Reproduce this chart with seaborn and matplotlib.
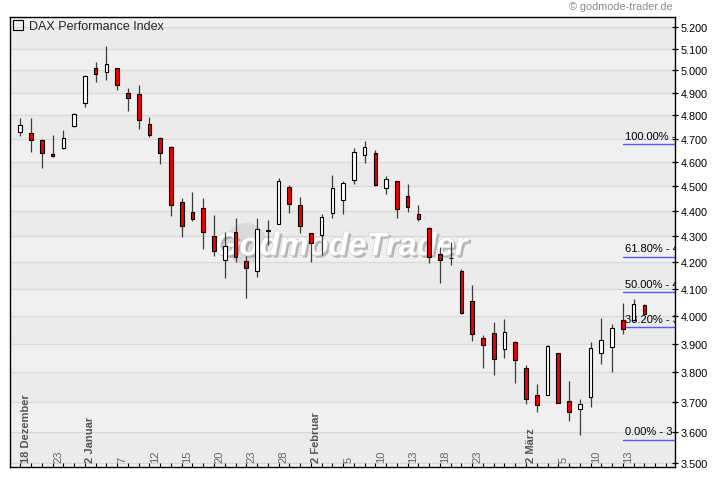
import numpy as np
import pandas as pd
import matplotlib
matplotlib.use("Agg")
import matplotlib.pyplot as plt
import matplotlib.transforms as mtransforms
import matplotlib.patheffects as pe
from matplotlib.lines import Line2D
from matplotlib.ticker import FixedLocator, FixedFormatter, NullLocator
import seaborn as sns

# ---------------- data ----------------
dates = ["2008-12-18", "2008-12-19", "2008-12-22", "2008-12-23", "2008-12-29", "2008-12-30",
         "2009-01-02", "2009-01-05", "2009-01-06", "2009-01-07", "2009-01-08", "2009-01-09",
         "2009-01-12", "2009-01-13", "2009-01-14", "2009-01-15", "2009-01-16",
         "2009-01-19", "2009-01-20", "2009-01-21", "2009-01-22", "2009-01-23",
         "2009-01-26", "2009-01-27", "2009-01-28", "2009-01-29", "2009-01-30",
         "2009-02-02", "2009-02-03", "2009-02-04", "2009-02-05", "2009-02-06",
         "2009-02-09", "2009-02-10", "2009-02-11", "2009-02-12", "2009-02-13",
         "2009-02-16", "2009-02-17", "2009-02-18", "2009-02-19", "2009-02-20",
         "2009-02-23", "2009-02-24", "2009-02-25", "2009-02-26", "2009-02-27",
         "2009-03-02", "2009-03-03", "2009-03-04", "2009-03-05", "2009-03-06",
         "2009-03-09", "2009-03-10", "2009-03-11", "2009-03-12", "2009-03-13",
         "2009-03-16", "2009-03-17"]

opens = [4727, 4722, 4692, 4634, 4659, 4753,
         4855, 5011, 4991, 5011, 4899, 4893,
         4764, 4703, 4662, 4437, 4396,
         4412, 4302, 4209, 4317, 4205,
         4166, 4323, 4349, 4499, 4424,
         4313, 4304, 4391, 4443, 4525,
         4629, 4637, 4493, 4522, 4462,
         4389, 4333, 4233, 4218, 4168,
         4055, 3921, 3938, 3883, 3907,
         3817, 3724, 3724, 3866, 3701,
         3677, 3716, 3866, 3890, 3984,
         3984, 4040]
highs = [4787, 4787, 4700, 4717, 4735, 4810,
         4978, 5040, 5114, 5013, 4921, 4935,
         4791, 4705, 4670, 4454, 4478,
         4454, 4385, 4319, 4374, 4225,
         4372, 4364, 4536, 4504, 4458,
         4315, 4389, 4548, 4523, 4658,
         4688, 4651, 4544, 4524, 4511,
         4426, 4335, 4259, 4279, 4174,
         4113, 3933, 3978, 3988, 3909,
         3826, 3760, 3895, 3868, 3770,
         3708, 3907, 3992, 3970, 4048,
         4063, 4043]
lows = [4713, 4644, 4574, 4623, 4656, 4751,
        4837, 4950, 4959, 4914, 4819, 4740,
        4706, 4594, 4379, 4296, 4359,
        4250, 4223, 4141, 4200, 4066,
        4145, 4265, 4347, 4394, 4313,
        4200, 4227, 4371, 4387, 4508,
        4598, 4502, 4467, 4371, 4398,
        4359, 4196, 4121, 4188, 4009,
        3909, 3816, 3792, 3850, 3764,
        3692, 3665, 3722, 3695, 3635,
        3589, 3682, 3829, 3802, 3935,
        3982, 4004]
closes = [4757, 4693, 4640, 4628, 4703, 4808,
          4975, 4982, 5031, 4936, 4878, 4780,
          4714, 4637, 4423, 4339, 4367,
          4317, 4244, 4263, 4221, 4180,
          4329, 4326, 4522, 4428, 4341,
          4275, 4376, 4493, 4514, 4645,
          4666, 4504, 4532, 4407, 4416,
          4367, 4219, 4208, 4216, 4011,
          3934, 3897, 3848, 3942, 3843,
          3710, 3690, 3891, 3697, 3667,
          3693, 3886, 3914, 3955, 3952,
          4043, 4009]

tick_dates = ["2008-12-18", "2008-12-23", "2009-01-02", "2009-01-07", "2009-01-12",
              "2009-01-15", "2009-01-20", "2009-01-23", "2009-01-28", "2009-02-02",
              "2009-02-05", "2009-02-10", "2009-02-13", "2009-02-18", "2009-02-23",
              "2009-03-02", "2009-03-05", "2009-03-10", "2009-03-13"]
tick_labels = ["18 Dezember", "23", "2 Januar", "7", "12", "15", "20", "23", "28",
               "2 Februar", "5", "10", "13", "18", "23", "2 März", "5", "10", "13"]

y_ticks = [3500, 3600, 3700, 3800, 3900, 4000, 4100, 4200, 4300, 4400,
           4500, 4600, 4700, 4800, 4900, 5000, 5100, 5200]

# Fibonacci retracement levels and their (axis-truncated) labels
fib_labels = ["100.00% -", "61.80% - 4", "50.00% - 4", "38.20% - 3", "0.00% - 3"]
fib_levels = [4675, 4221, 4087, 3960, 3575]

# ---------------- style ----------------
sns.set_theme(style="white")
plt.rcParams["font.family"] = ["Liberation Sans", "DejaVu Sans"]

df = pd.DataFrame({"date": dates, "open": opens, "high": highs,
                   "low": lows, "close": closes})
df["pos"] = np.arange(len(df))
df["up"] = df["close"] >= df["open"]
df["bottom"] = df[["open", "close"]].min(axis=1)
df["height"] = (df["close"] - df["open"]).abs().clip(lower=1.5)

fig = plt.figure(figsize=(7.2, 4.81), dpi=100)
ax = fig.add_axes([10 / 720, 13 / 481, 665 / 720, 450 / 481])

LIGHT = "#f0f0f0"
DARK = "#ebebeb"
ax.set_facecolor(LIGHT)
ax.set_yscale("log")
ax.set_ylim(3487, 5249)
ax.set_xlim(-0.96, 60.85)

# alternating bands and grid
for lo in range(3500, 5200, 200):
    ax.axhspan(lo, lo + 100, color=DARK, lw=0, zorder=0)
for t in y_ticks:
    ax.axhline(t, color="#d9d9d9", lw=0.9, zorder=0.5)

# watermark + logo sphere
ax.scatter([0.355], [0.496], s=900, color="#dadada", edgecolors="none",
           transform=ax.transAxes, zorder=0.8)
ax.text(0.497, 0.49, "GodmodeTrader", transform=ax.transAxes,
        ha="center", va="center", fontsize=23.5, fontweight="bold", style="italic",
        family=["Liberation Sans", "DejaVu Sans"], color="white",
        zorder=0.9,
        path_effects=[pe.withSimplePatchShadow(offset=(1.8, -1.8),
                                               shadow_rgbFace="#909090", alpha=0.6),
                      pe.Stroke(linewidth=0.9, foreground="#cfcfcf"), pe.Normal()])

# Fibonacci retracement lines
fib_tr = mtransforms.offset_copy(ax.get_yaxis_transform(), fig=fig, x=1.5, y=2.5,
                                 units="points")
for lab, lvl in zip(fib_labels, fib_levels):
    ax.axhline(lvl, xmin=0.922, xmax=1.0, color="#5b5bf0", lw=1.0, zorder=1)
    ax.text(0.922, lvl, lab, transform=fib_tr, fontsize=8,
            color="black", ha="left", va="bottom", clip_on=True, zorder=1.2)

# candlesticks
ax.vlines(df["pos"], df["low"], df["high"], color="#3c3c3c", lw=0.9, zorder=2)
colors = np.where(df["up"], "white", "#ee0000")
ax.bar(df["pos"], df["height"], bottom=df["bottom"], width=0.34,
       color=colors, edgecolor="black", linewidth=0.8, zorder=3)

# y axis on the right
ax.yaxis.tick_right()
ax.yaxis.set_major_locator(FixedLocator(y_ticks))
ax.yaxis.set_major_formatter(FixedFormatter([f"{t:,}".replace(",", ".") for t in y_ticks]))
ax.yaxis.set_minor_locator(NullLocator())
ax.tick_params(axis="y", which="major", direction="inout", length=5, width=0.9,
               color="black", labelsize=7.8, pad=1.5, labelcolor="black",
               right=True, left=False)

# x axis ticks (every trading day) and labels inside the plot
ax.set_xticks(np.arange(0, 61))
ax.set_xticklabels([])
ax.tick_params(axis="x", which="major", direction="in", length=3, width=0.8,
               color="black", bottom=True, top=False)
label_tr = ax.get_xaxis_transform()
for d, lab in zip(tick_dates, tick_labels):
    p = dates.index(d)
    bold = " " in lab
    ax.text(p + 0.5, 0.011, lab, transform=label_tr, rotation=90,
            ha="center", va="bottom", fontsize=8,
            fontweight="bold" if bold else "normal",
            color="#555555" if bold else "#666666", zorder=1.5)

for s in ax.spines.values():
    s.set_color("black")
    s.set_linewidth(1.0)
    s.set_visible(True)

# legend-like title
handle = Line2D([], [], marker="s", ls="none", mfc="none", mec="black", ms=6.5, mew=0.8)
ax.legend([handle], ["DAX Performance Index"], loc="upper left", bbox_to_anchor=(0, 1),
          frameon=False, fontsize=9, handlelength=0.8, handletextpad=0.5,
          borderpad=0.25, borderaxespad=0)

fig.text(673 / 720, 1 - 7 / 481, "\u00a9 godmode-trader.de", ha="right", va="center",
         fontsize=7.8, color="#8a8a8a")

fig.savefig("out.png", dpi=100, facecolor="white")
